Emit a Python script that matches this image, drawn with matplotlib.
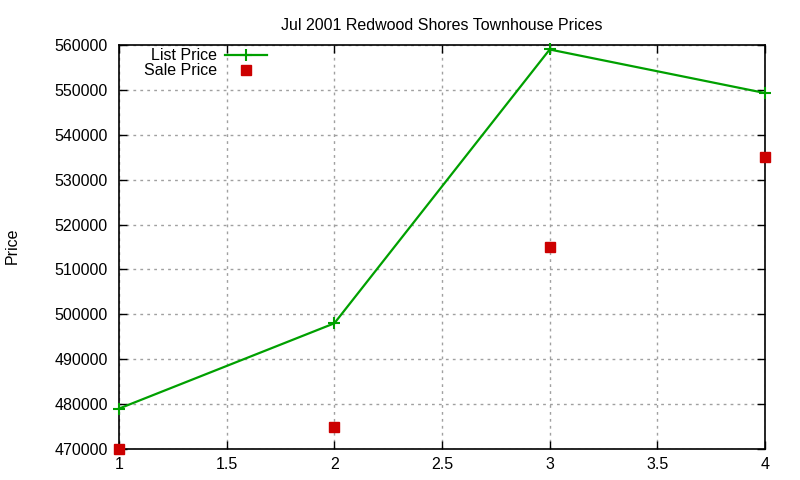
import matplotlib
matplotlib.use("Agg")
import matplotlib.pyplot as plt

plt.rcParams['font.family'] = ['Liberation Sans', 'DejaVu Sans']

x_vals = [1, 2, 3, 4]
list_price = [479000, 498000, 559000, 549300]
sale_price = [470000, 475000, 515000, 535000]
x_ticks = [1, 1.5, 2, 2.5, 3, 3.5, 4]
x_tick_labels = ['1', '1.5', '2', '2.5', '3', '3.5', '4']
y_ticks = [470000, 480000, 490000, 500000, 510000, 520000, 530000, 540000,
           550000, 560000]
title = "Jul 2001 Redwood Shores Townhouse Prices"
ylabel = "Price"

fig = plt.figure(figsize=(8, 4.8), dpi=100)
ax = fig.add_axes([119/800, 31/480, 646/800, 404/480])

ax.plot(x_vals, list_price, color='#00a000', lw=1.6, marker='+', ms=8,
        mew=1.5, label='List Price', clip_on=False, zorder=3)
ax.plot(x_vals, sale_price, linestyle='none', color='#cc0000', marker='s',
        ms=6.5, label='Sale Price', clip_on=False, zorder=3)

ax.set_xlim(1, 4)
ax.set_ylim(470000, 560000)
ax.set_xticks(x_ticks)
ax.set_xticklabels(x_tick_labels)
ax.set_yticks(y_ticks)
ax.set_yticklabels([str(v) for v in y_ticks])
ax.tick_params(direction='in', length=6, width=1, top=True, right=True,
               labelsize=11.5, colors='black')
ax.tick_params(axis='x', pad=6)
ax.tick_params(axis='y', pad=8)
ax.grid(True, color='#a0a0a0', linestyle=(0, (2, 3)), lw=1)
for s in ax.spines.values():
    s.set_linewidth(1.2)
    s.set_color('black')

ax.set_title(title, fontsize=11.5, pad=10.5)
fig.text(12/800, 1 - 246/480, ylabel, rotation=90, ha='center', va='center',
         fontsize=11.5)

leg = ax.legend(loc='upper left', bbox_to_anchor=(14/646, 1.02), frameon=False,
                markerfirst=False, fontsize=11.5, handlelength=2.6,
                handletextpad=0.5, labelspacing=0.0, borderaxespad=0.3)
for t in leg.get_texts():
    t.set_ha('right')

fig.savefig('out.png', dpi=100)
